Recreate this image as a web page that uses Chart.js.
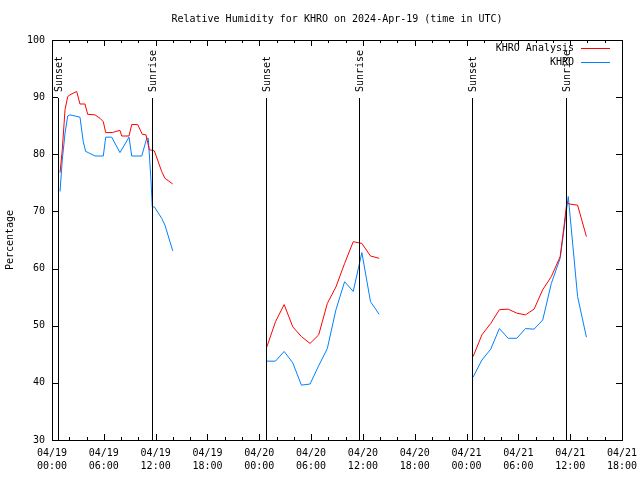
<!DOCTYPE html>
<html>
<head>
<meta charset="utf-8">
<script src="https://cdn.jsdelivr.net/npm/chart.js@4.4.1/dist/chart.umd.min.js"></script>
<style>
  body { margin: 0; background: #fff; }
  #wrap { width: 640px; height: 480px; }
</style>
</head>
<body>
<div id="wrap"><canvas id="rhChart" width="640" height="480"></canvas></div>
<script>
// hours since 2024-04-19 00:00 UTC, null value = gap between nights
const analysisHours = [0.93, 1.19, 1.51, 1.82, 2.08, 2.86, 3.24, 3.82, 4.13, 4.98, 5.56, 5.94, 6.22, 6.98, 7.87, 8.07, 8.92, 9.23, 9.92, 10.46, 10.88, 11.27, 11.85, 12.70, 13.08, 13.98,
    19,
    24.88, 25.88, 26.88, 27.88, 28.88, 29.88, 30.88, 31.88, 32.88, 33.88, 34.88, 35.88, 36.88, 37.88,
    43,
    48.76, 49.78, 50.80, 51.80, 52.82, 53.82, 54.82, 55.82, 56.82, 57.82, 58.84, 59.30, 59.62, 59.88, 60.86, 61.88];
const analysisValues = [76.8, 80.8, 87.8, 90.1, 90.4, 91.0, 88.8, 88.8, 87.0, 86.9, 86.3, 85.7, 83.8, 83.8, 84.2, 83.2, 83.2, 85.2, 85.2, 83.5, 83.4, 80.8, 80.6, 77.0, 75.8, 74.8,
    null,
    46.3, 50.7, 53.7, 49.8, 48.1, 46.9, 48.4, 53.9, 56.8, 60.9, 64.7, 64.4, 62.2, 61.8,
    null,
    44.6, 48.4, 50.4, 52.8, 52.9, 52.2, 51.9, 52.9, 56.3, 58.6, 62.1, 67.6, 71.7, 71.3, 71.1, 65.6];

const obsHours = [0.93, 1.19, 1.51, 1.82, 2.08, 3.24, 3.62, 3.90, 4.20, 4.98, 5.94, 6.22, 6.91, 7.87, 8.92, 9.23, 10.39, 10.97, 11.15, 11.46, 11.61, 11.85, 12.70, 13.08, 13.98,
    19,
    24.88, 25.88, 26.88, 27.88, 28.88, 29.88, 30.88, 31.88, 32.88, 33.88, 34.88, 35.88, 36.88, 37.88,
    43,
    48.76, 49.78, 50.80, 51.80, 52.82, 53.82, 54.82, 55.82, 56.82, 57.82, 58.84, 59.78, 60.86, 61.88];
const obsValues = [73.5, 79.0, 83.7, 86.7, 86.9, 86.5, 82.2, 80.5, 80.3, 79.7, 79.7, 83.0, 83.0, 80.3, 83.0, 79.7, 79.7, 82.8, 82.8, 75.5, 70.8, 70.8, 68.8, 67.6, 63.1,
    null,
    43.8, 43.8, 45.5, 43.5, 39.6, 39.8, 43.0, 46.0, 52.8, 57.7, 56.0, 62.8, 54.2, 52.0,
    null,
    41.0, 44.0, 45.9, 49.5, 47.8, 47.8, 49.5, 49.4, 51.0, 57.4, 61.8, 72.6, 55.1, 48.0];

const sunHours = [0.70, 11.58, 24.78, 35.58, 48.65, 59.52];
const sunNames = ['Sunset', 'Sunrise', 'Sunset', 'Sunrise', 'Sunset', 'Sunrise'];

const tickDates = ['04/19', '04/19', '04/19', '04/19', '04/20', '04/20', '04/20', '04/20', '04/21', '04/21', '04/21', '04/21'];
const tickTimes = ['00:00', '06:00', '12:00', '18:00', '00:00', '06:00', '12:00', '18:00', '00:00', '06:00', '12:00', '18:00'];

const FONT = '10px "DejaVu Sans Mono", monospace';

function toPoints(xs, ys) {
    return xs.map((h, i) => ({ x: h, y: ys[i] }));
}

// frame, inward ticks, sunrise/sunset markers, title and legend (gnuplot look)
const decorPlugin = {
    id: 'decor',
    afterDatasetsDraw(chart) {
        const ctx = chart.ctx;
        const area = chart.chartArea;
        const xs = chart.scales.x;
        const ys = chart.scales.y;
        ctx.save();
        ctx.strokeStyle = '#000';
        ctx.fillStyle = '#000';
        ctx.lineWidth = 1;
        ctx.font = FONT;

        // sun lines
        sunHours.forEach((h, i) => {
            const px = Math.round(xs.getPixelForValue(h)) + 0.5;
            ctx.beginPath();
            ctx.moveTo(px, area.top + 58);
            ctx.lineTo(px, area.bottom);
            ctx.stroke();
            ctx.save();
            ctx.translate(px + 1, area.top + 52);
            ctx.rotate(-Math.PI / 2);
            ctx.textAlign = 'left';
            ctx.textBaseline = 'middle';
            ctx.fillText(sunNames[i], 0, 0);
            ctx.restore();
        });

        // frame
        ctx.strokeRect(Math.round(area.left) + 0.5, Math.round(area.top) + 0.5,
            Math.round(area.right - area.left), Math.round(area.bottom - area.top));

        // x ticks every 2 hours, majors every 6
        ctx.beginPath();
        for (let h = 0; h <= 66; h += 2) {
            const px = Math.round(xs.getPixelForValue(h)) + 0.5;
            const len = h % 6 === 0 ? 6 : 3;
            ctx.moveTo(px, area.bottom);
            ctx.lineTo(px, area.bottom - len);
            ctx.moveTo(px, area.top);
            ctx.lineTo(px, area.top + len);
        }
        // y ticks
        for (let v = 30; v <= 100; v += 10) {
            const py = Math.round(ys.getPixelForValue(v)) + 0.5;
            ctx.moveTo(area.left, py);
            ctx.lineTo(area.left + 6, py);
            ctx.moveTo(area.right, py);
            ctx.lineTo(area.right - 6, py);
        }
        ctx.stroke();

        // title
        ctx.textAlign = 'center';
        ctx.textBaseline = 'middle';
        ctx.fillText('Relative Humidity for KHRO on 2024-Apr-19 (time in UTC)', (area.left + area.right) / 2, 19);

        // legend
        ctx.textAlign = 'right';
        chart.data.datasets.forEach((ds, i) => {
            const ly = 48 + i * 14;
            ctx.fillStyle = '#000';
            ctx.fillText(ds.label, 574, ly);
            ctx.strokeStyle = ds.borderColor;
            ctx.beginPath();
            ctx.moveTo(581, ly + 0.5);
            ctx.lineTo(610, ly + 0.5);
            ctx.stroke();
        });
        ctx.restore();
    }
};

new Chart(document.getElementById('rhChart'), {
    type: 'line',
    data: {
        datasets: [
            {
                label: 'KHRO Analysis',
                data: toPoints(analysisHours, analysisValues),
                borderColor: '#ff0000',
                borderWidth: 1,
                pointRadius: 0,
                spanGaps: false
            },
            {
                label: 'KHRO',
                data: toPoints(obsHours, obsValues),
                borderColor: '#0080ff',
                borderWidth: 1,
                pointRadius: 0,
                spanGaps: false
            }
        ]
    },
    options: {
        responsive: false,
        animation: false,
        layout: { padding: { top: 40, right: 18, left: 0, bottom: 0 } },
        plugins: {
            legend: { display: false },
            tooltip: { enabled: false },
            title: { display: false }
        },
        scales: {
            x: {
                type: 'linear',
                min: 0,
                max: 66,
                grid: { display: false, drawTicks: false },
                border: { display: false },
                afterBuildTicks(scale) {
                    scale.ticks = tickTimes.map((t, i) => ({ value: i * 6 }));
                },
                afterFit(scale) {
                    scale.height = 40;
                    scale.paddingLeft = 0;
                    scale.paddingRight = 0;
                },
                ticks: {
                    autoSkip: false,
                    maxRotation: 0,
                    padding: 7,
                    color: '#000',
                    font: { family: '"DejaVu Sans Mono", monospace', size: 10, lineHeight: 1.3 },
                    callback: (value, i) => [tickDates[i], tickTimes[i]]
                }
            },
            y: {
                min: 30,
                max: 100,
                grid: { display: false, drawTicks: false },
                border: { display: false },
                afterFit(scale) {
                    scale.width = 52;
                    scale.paddingTop = 0;
                    scale.paddingBottom = 0;
                },
                ticks: {
                    stepSize: 10,
                    padding: 7,
                    color: '#000',
                    font: { family: '"DejaVu Sans Mono", monospace', size: 10 }
                },
                title: {
                    display: true,
                    text: 'Percentage',
                    color: '#000',
                    padding: { top: 4, bottom: 4 },
                    font: { family: '"DejaVu Sans Mono", monospace', size: 10 }
                }
            }
        }
    },
    plugins: [decorPlugin]
});
</script>
</body>
</html>
